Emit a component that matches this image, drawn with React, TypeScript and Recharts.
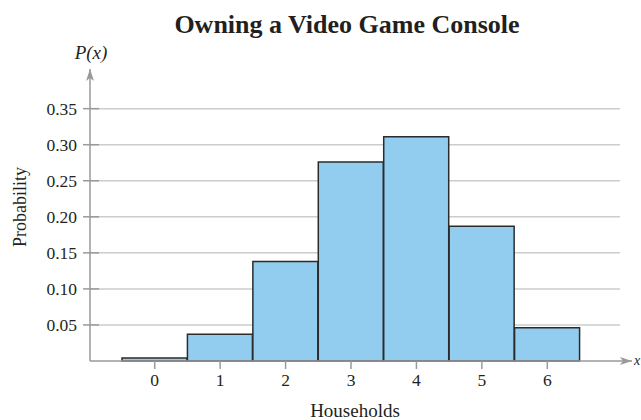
import React from 'react';
import { BarChart, Bar, XAxis, YAxis, CartesianGrid } from 'recharts';

const households = ['0', '1', '2', '3', '4', '5', '6'];
const probability = [0.004, 0.037, 0.138, 0.276, 0.311, 0.187, 0.046];
const yTicks = [0.05, 0.1, 0.15, 0.2, 0.25, 0.3, 0.35];

const data = households.map((h, i) => ({ x: h, p: probability[i] }));

const serif = '"Liberation Serif", "Times New Roman", serif';
const axisGray = '#9a9a9a';
const textColor = '#231f20';

// y tick: label plus a short tick crossing the axis
const YTick = (props: any) => {
  const { x, y, payload } = props;
  const axisX = x + 13;
  return (
    <g>
      <line x1={axisX - 7} x2={axisX + 9} y1={y} y2={y} stroke={axisGray} strokeWidth={1.5} />
      <text x={x} y={y} dy={6} textAnchor="end" fontFamily={serif} fontSize={17.5} fill={textColor}>
        {Number(payload.value).toFixed(2)}
      </text>
    </g>
  );
};

export default function App() {
  return (
    <div style={{ position: 'absolute', left: 0, top: 0, width: 641, height: 420, background: '#fff' }}>
      <BarChart
        width={641}
        height={420}
        data={data}
        margin={{ top: 69, right: 9, bottom: 29, left: 30 }}
        barCategoryGap={0}
        barGap={0}
      >
        <CartesianGrid
          horizontal
          vertical={false}
          syncWithTicks
          x={90}
          width={530}
          stroke="#cccccc"
          strokeWidth={1.5}
        />
        <XAxis
          dataKey="x"
          type="category"
          padding={{ left: 32, right: 52 }}
          height={30}
          tickSize={8}
          tickMargin={5}
          axisLine={{ stroke: axisGray, strokeWidth: 1.5, markerEnd: 'url(#arrowHead)' }}
          tickLine={{ stroke: axisGray, strokeWidth: 1.5 }}
          tick={{ fontFamily: serif, fontSize: 17.5, fill: textColor }}
        />
        <YAxis
          type="number"
          domain={[0, 0.405]}
          ticks={yTicks}
          width={60}
          tickSize={7}
          tickMargin={6}
          tickLine={false}
          axisLine={{ stroke: axisGray, strokeWidth: 1.5, markerStart: 'url(#arrowHead)' }}
          tick={<YTick />}
          interval={0}
        />
        <Bar dataKey="p" fill="#92cdf0" stroke="#2b2b2b" strokeWidth={1.5} isAnimationActive={false} />
      </BarChart>
      <svg
        width={641}
        height={420}
        style={{ position: 'absolute', left: 0, top: 0, pointerEvents: 'none' }}
      >
        <defs>
          <marker
            id="arrowHead"
            viewBox="0 0 12 8"
            refX={12}
            refY={4}
            markerWidth={12}
            markerHeight={8}
            markerUnits="userSpaceOnUse"
            orient="auto-start-reverse"
          >
            <path d="M0,0 L12,4 L0,8 L3,4 Z" fill={axisGray} />
          </marker>
        </defs>
        <text x={347} y={33} textAnchor="middle" fontFamily={serif} fontSize={26} fontWeight="bold" fill={textColor}>
          Owning a Video Game Console
        </text>
        <text x={91} y={59} textAnchor="middle" fontFamily={serif} fontSize={19} fontStyle="italic" fill={textColor}>
          P(x)
        </text>
        <text x={634} y={365} fontFamily={serif} fontSize={14} fontStyle="italic" fill={textColor}>
          x
        </text>
        <text
          x={26}
          y={207}
          transform="rotate(-90 26 207)"
          textAnchor="middle"
          fontFamily={serif}
          fontSize={18}
          fill={textColor}
        >
          Probability
        </text>
        <text x={355} y={417} textAnchor="middle" fontFamily={serif} fontSize={19} fill={textColor}>
          Households
        </text>
      </svg>
    </div>
  );
}
